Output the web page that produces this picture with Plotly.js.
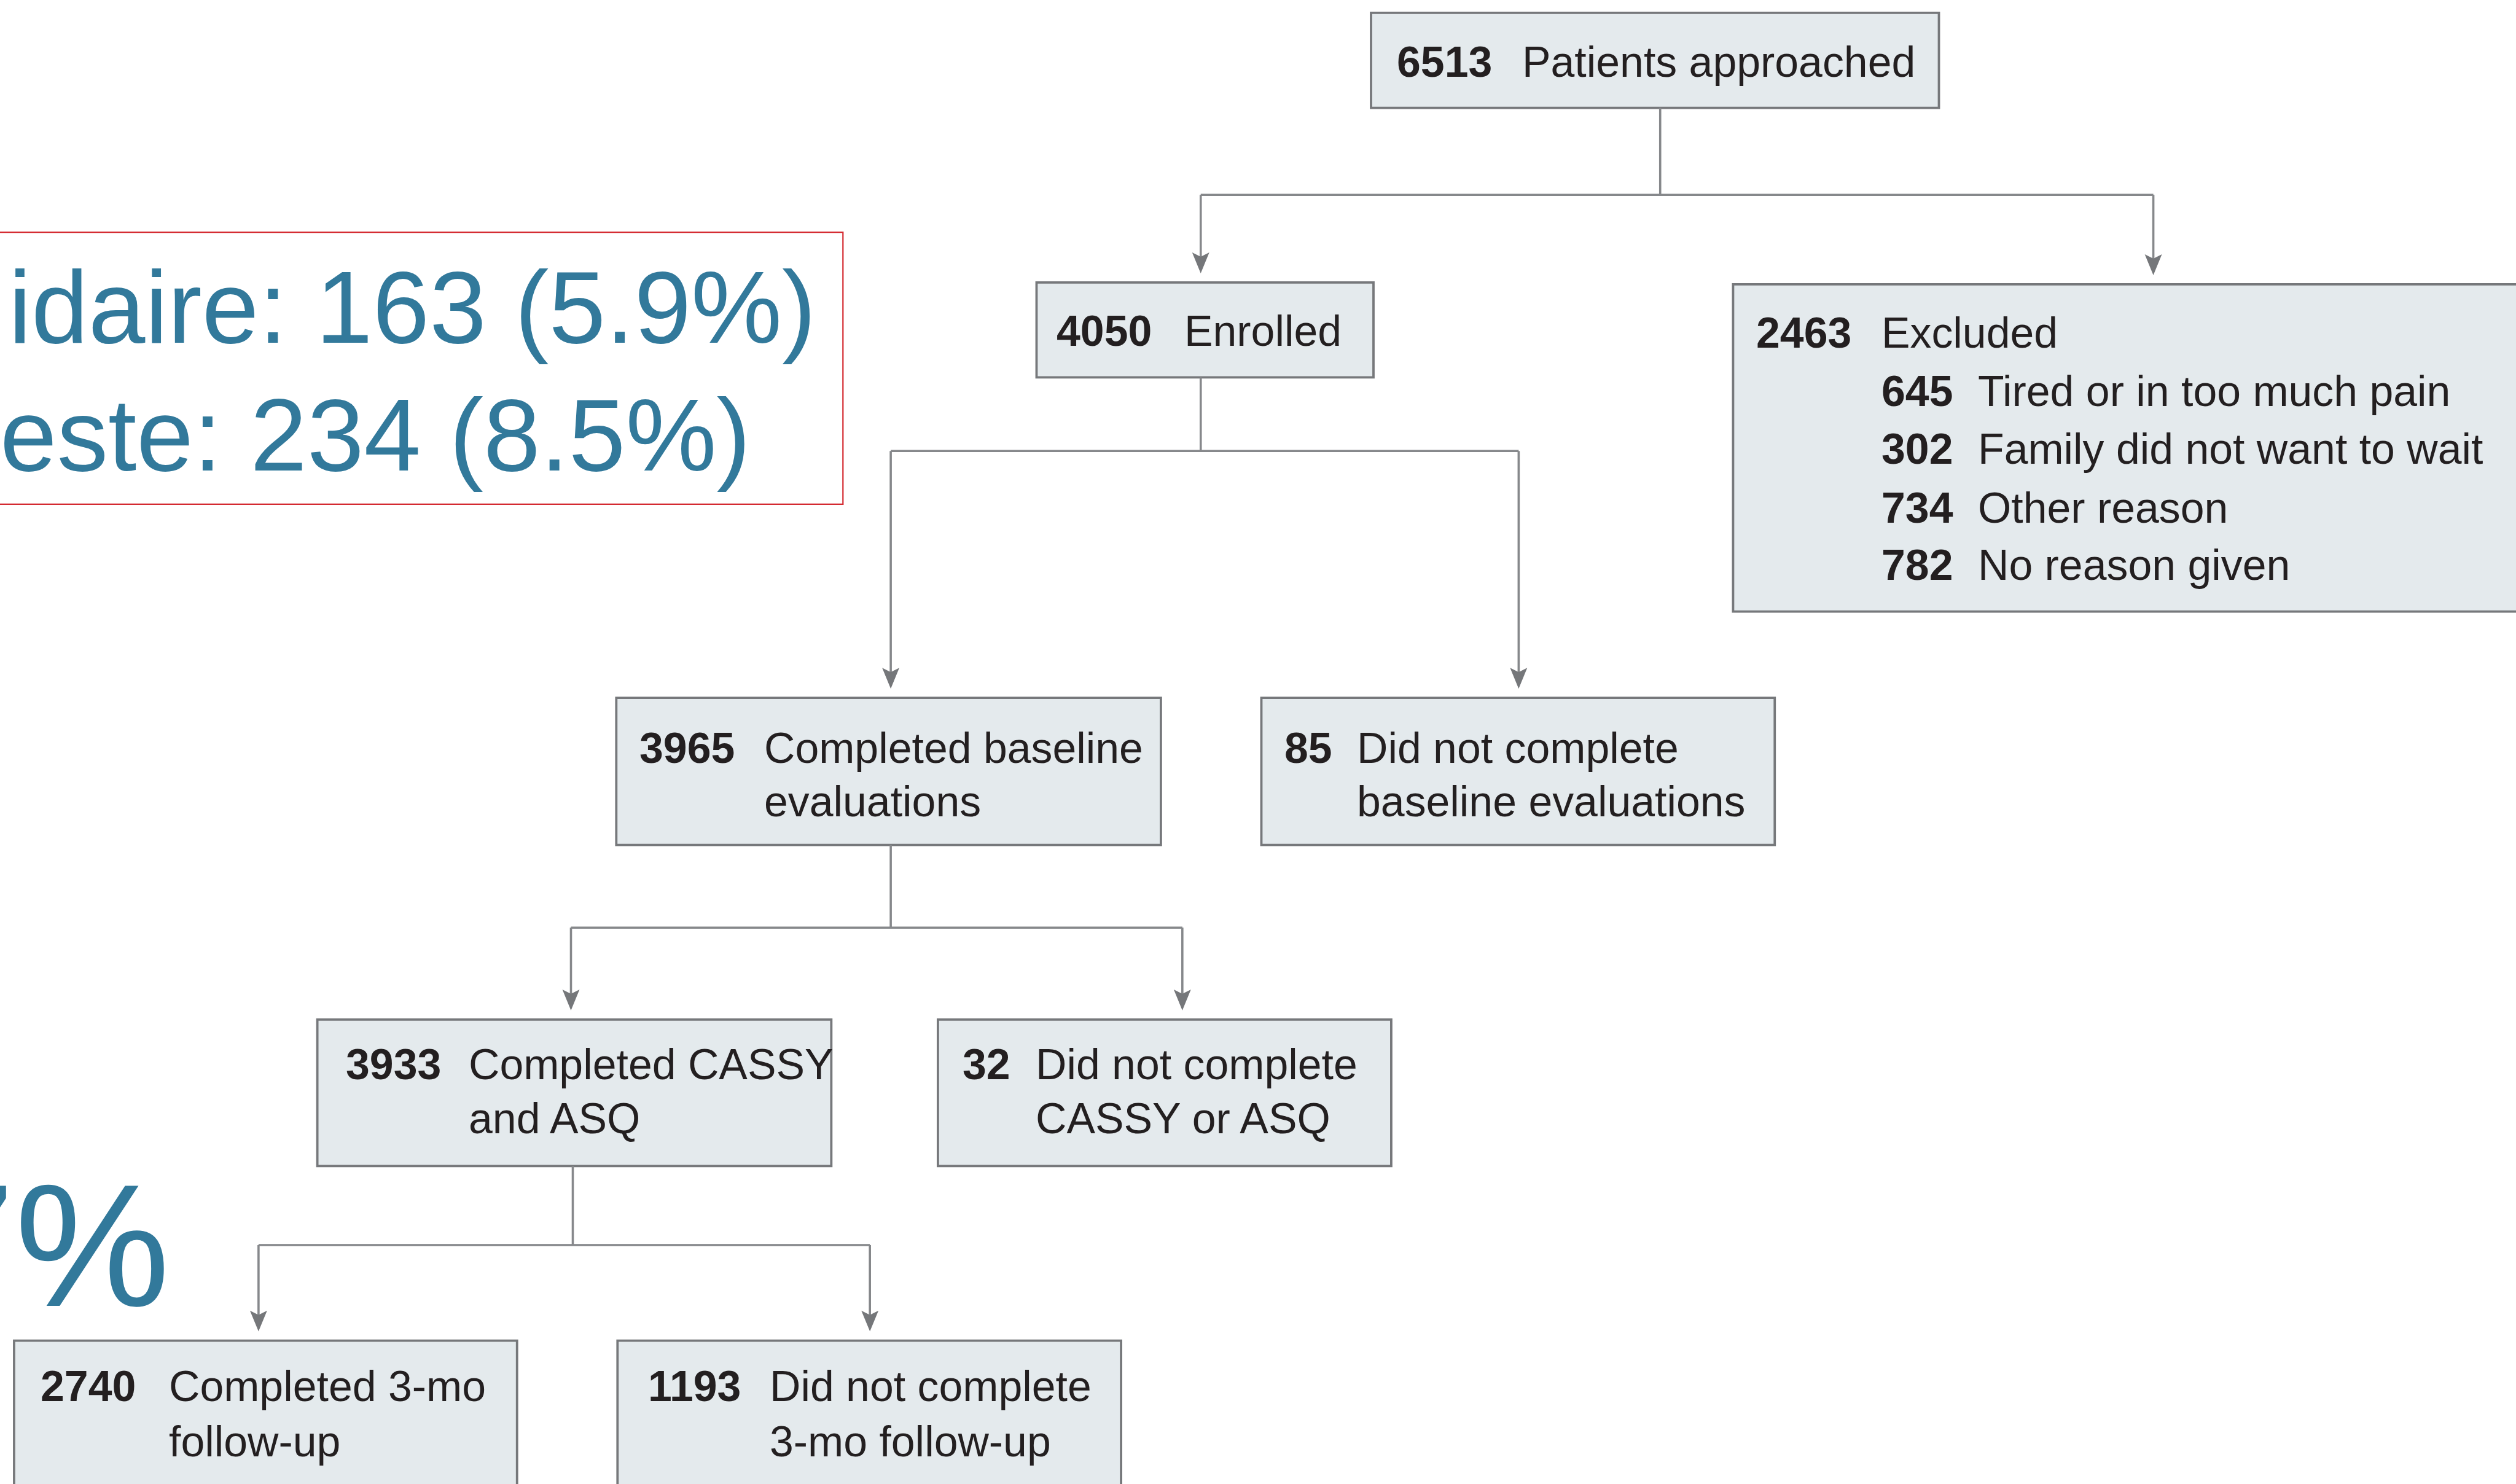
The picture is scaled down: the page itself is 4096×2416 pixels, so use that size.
<!DOCTYPE html>
<html>
<head>
<meta charset="utf-8">
<script src="https://cdn.plot.ly/plotly-3.0.1.min.js"></script>
<style>html,body{margin:0;padding:0;background:#fff;overflow:hidden}#chart{width:4096px;height:2416px}</style>
</head>
<body>
<div id="chart"></div>
<script>
// ---- data ----
const counts = [6513, 4050, 2463, 3965, 85, 3933, 32, 2740, 1193];
const labels = [
  ["Patients approached"],
  ["Enrolled"],
  ["Excluded"],
  ["Completed baseline", "evaluations"],
  ["Did not complete", "baseline evaluations"],
  ["Completed CASSY", "and ASQ"],
  ["Did not complete", "CASSY or ASQ"],
  ["Completed 3-mo", "follow-up"],
  ["Did not complete", "3-mo follow-up"]
];
const excludedCounts = [645, 302, 734, 782];
const excludedReasons = ["Tired or in too much pain", "Family did not want to wait", "Other reason", "No reason given"];
const noteLines = ["idaire: 163 (5.9%)", "este: 234 (8.5%)"];
const bigNote = "7%";

// ---- layout geometry (reference pixel space) ----
const W = 4107, H = 2422, K = 4096 / 4107;
const boxGeom = [
  {x0: 2238, x1: 3165, y0: 21,   y1: 176,  nx: 2280, lx: 2485, base: [125]},
  {x0: 1692, x1: 2242, y0: 461,  y1: 616,  nx: 1725, lx: 1933, base: [565]},
  {x0: 2829, x1: 4140, y0: 464,  y1: 998,  nx: 2867, lx: 3071, base: [568]},
  {x0: 1006, x1: 1895, y0: 1139, y1: 1379, nx: 1044, lx: 1247, base: [1245, 1332]},
  {x0: 2059, x1: 2897, y0: 1139, y1: 1379, nx: 2097, lx: 2215, base: [1245, 1332]},
  {x0: 518,  x1: 1357, y0: 1664, y1: 1903, nx: 565,  lx: 765,  base: [1762, 1850]},
  {x0: 1531, x1: 2271, y0: 1664, y1: 1903, nx: 1571, lx: 1691, base: [1762, 1850]},
  {x0: 23,   x1: 844,  y0: 2188, y1: 2460, nx: 66,   lx: 276,  base: [2287, 2377]},
  {x0: 1008, x1: 1830, y0: 2188, y1: 2460, nx: 1058, lx: 1256, base: [2287, 2377]}
];
const exclGeom = {nx: 3071, lx: 3229, base: [663, 757, 853, 947]};
const links = [
  {from: 0, stemX: 2710, busY: 318,  to: [1, 2], tipX: [1960, 3515]},
  {from: 1, stemX: 1960, busY: 736,  to: [3, 4], tipX: [1454, 2479]},
  {from: 3, stemX: 1454, busY: 1514, to: [5, 6], tipX: [932, 1930]},
  {from: 5, stemX: 935,  busY: 2032, to: [7, 8], tipX: [422, 1420]}
];

const FONT = "Liberation Sans, Arial, sans-serif";
const TXT = "#231f20";
const BLUE = "#32799b";
const TS = 70;      // box text size (reference px)

function ann(text, x, baseline, size, opts) {
  return Object.assign({
    xref: "x", yref: "y", x: x, y: baseline - 0.3465 * size,
    xanchor: "left", yanchor: "middle", showarrow: false,
    text: text, borderpad: 0, borderwidth: 0,
    font: {family: FONT, size: size * K, color: TXT}
  }, opts || {});
}

const shapes = [];
const annotations = [];

// boxes
boxGeom.forEach((g, i) => {
  shapes.push({type: "rect", xref: "x", yref: "y", x0: g.x0, x1: g.x1, y0: g.y0, y1: g.y1,
    fillcolor: "#e4eaed", line: {color: "#76787b", width: 3.8 * K}, layer: "below"});
  annotations.push(ann("<b>" + counts[i] + "</b>", g.nx, g.base[0], TS));
  labels[i].forEach((line, j) => annotations.push(ann(line, g.lx, g.base[j], TS)));
});
excludedCounts.forEach((c, j) => {
  annotations.push(ann("<b>" + c + "</b>", exclGeom.nx, exclGeom.base[j], TS));
  annotations.push(ann(excludedReasons[j], exclGeom.lx, exclGeom.base[j], TS));
});

// connectors
const LC = "#86888b", LW = 3.6 * K, AH = 34, AW = 14, NOTCH = 7;
links.forEach(l => {
  const p = boxGeom[l.from];
  shapes.push({type: "line", xref: "x", yref: "y", x0: l.stemX, x1: l.stemX, y0: p.y1, y1: l.busY, line: {color: LC, width: LW}});
  shapes.push({type: "line", xref: "x", yref: "y", x0: Math.min(...l.tipX), x1: Math.max(...l.tipX), y0: l.busY, y1: l.busY, line: {color: LC, width: LW}});
  l.to.forEach((c, k) => {
    const x = l.tipX[k], tip = boxGeom[c].y0 - 15;
    shapes.push({type: "line", xref: "x", yref: "y", x0: x, x1: x, y0: l.busY, y1: tip - AH + NOTCH + 2, line: {color: LC, width: LW}});
    shapes.push({type: "path", xref: "x", yref: "y",
      path: `M ${x - AW},${tip - AH} L ${x},${tip - AH + NOTCH} L ${x + AW},${tip - AH} L ${x},${tip} Z`,
      fillcolor: "#75777a", line: {width: 0}});
  });
});

// red note box and blue overlay text
shapes.push({type: "rect", xref: "x", yref: "y", x0: -10, x1: 1376, y0: 379, y1: 823,
  fillcolor: "rgba(0,0,0,0)", line: {color: "#d42a30", width: 2.2 * K}});
annotations.push(ann(noteLines[0], 1333, 559, 167, {xanchor: "right", font: {family: FONT, size: 167 * K, color: BLUE}}));
annotations.push(ann(noteLines[1], 1225, 768, 167, {xanchor: "right", font: {family: FONT, size: 167 * K, color: BLUE}}));
annotations.push(ann(bigNote, 278, 2131, 285, {xanchor: "right", font: {family: FONT, size: 285 * K, color: BLUE}}));

const layout = {
  width: 4096, height: 2416,
  margin: {l: 0, r: 0, t: 0, b: 0, pad: 0},
  paper_bgcolor: "#ffffff", plot_bgcolor: "#ffffff",
  showlegend: false,
  xaxis: {range: [0, W], visible: false, fixedrange: true},
  yaxis: {range: [H, 0], visible: false, fixedrange: true},
  shapes: shapes,
  annotations: annotations
};

Plotly.newPlot("chart", [{x: [], y: [], type: "scatter", mode: "markers", hoverinfo: "skip"}], layout, {staticPlot: true, displayModeBar: false});
</script>
</body>
</html>
